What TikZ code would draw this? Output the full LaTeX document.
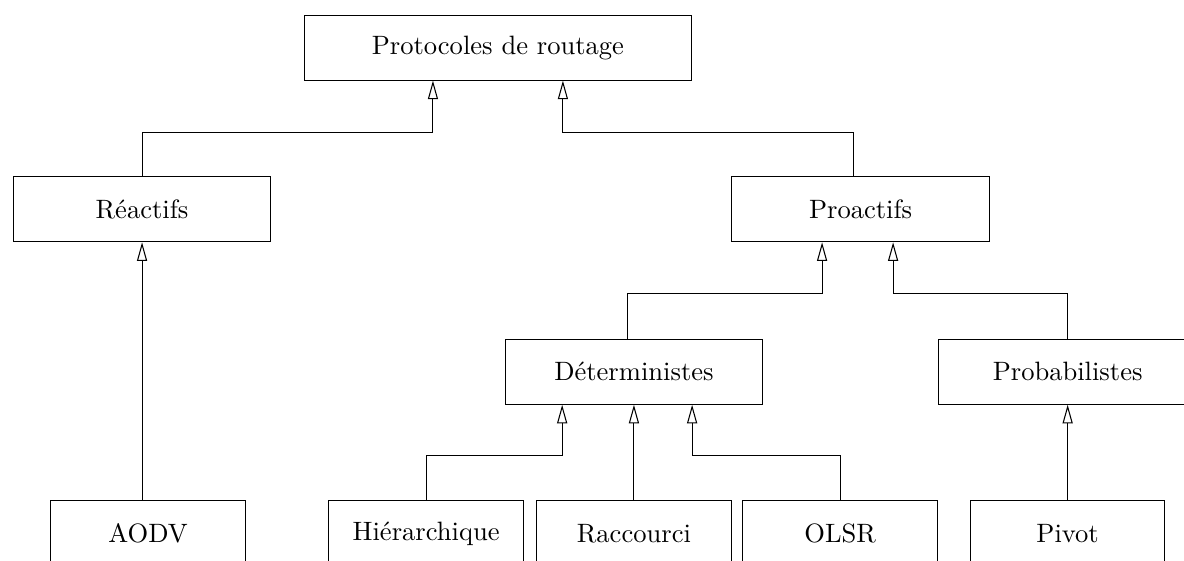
\documentclass[tikz,border=0pt]{standalone}
\usepackage{tikz}
\usetikzlibrary{arrows.meta}

\begin{document}
\begin{tikzpicture}[
	classe/.style={draw, minimum height=0.86cm, inner sep=0pt},
	herite/.style={-{Triangle[open,length=7pt,width=3.8pt]}}]
	\useasboundingbox (0,0) rectangle (15.67,-7.42);

	\node[classe, minimum width=5.13cm] (proto) at (6.59,-0.63) {Protocoles de routage};
	\node[classe, minimum width=3.41cm] (reac) at (1.88,-2.77) {Réactifs};
	\node[classe, minimum width=3.42cm] (proa) at (11.39,-2.77) {Proactifs};
	\node[classe, minimum width=3.41cm] (determ) at (8.39,-4.92) {Déterministes};
	\node[classe, minimum width=3.43cm] (proba) at (14.13,-4.92) {Probabilistes};
	\node[classe, minimum width=2.58cm] (aodv) at (1.96,-7.06) {AODV};
	\node[classe, minimum width=2.58cm] (hier) at (5.64,-7.06) {Hiérarchique};
	\node[classe, minimum width=2.57cm] (racc) at (8.39,-7.06) {Raccourci};
	\node[classe, minimum width=2.58cm] (olsr) at (11.12,-7.06) {OLSR};
	\node[classe, minimum width=2.57cm] (pivot) at (14.13,-7.06) {Pivot};

	% premier niveau
	\coordinate (a1) at (5.73,-1.753);
	\coordinate (a2) at (7.45,-1.753);
	\draw[herite] (reac.north) |- (a1) -- (a1 |- proto.south);
	\draw[herite] ([xshift=-0.09cm]proa.north) |- (a2) -- (a2 |- proto.south);

	% sous Proactifs
	\coordinate (b1) at (10.88,-3.89);
	\coordinate (b2) at (11.82,-3.89);
	\draw[herite] ([xshift=-0.09cm]determ.north) |- (b1) -- (b1 |- proa.south);
	\draw[herite] (proba.north) |- (b2) -- (b2 |- proa.south);

	% feuilles
	\coordinate (c1) at (7.44,-6.03);
	\coordinate (c2) at (9.16,-6.03);
	\draw[herite] (aodv.north -| reac.south) -- (reac.south);
	\draw[herite] (hier.north) |- (c1) -- (c1 |- determ.south);
	\draw[herite] (racc.north) -- (determ.south);
	\draw[herite] (olsr.north) |- (c2) -- (c2 |- determ.south);
	\draw[herite] (pivot.north) -- (proba.south);
\end{tikzpicture}
\end{document}
